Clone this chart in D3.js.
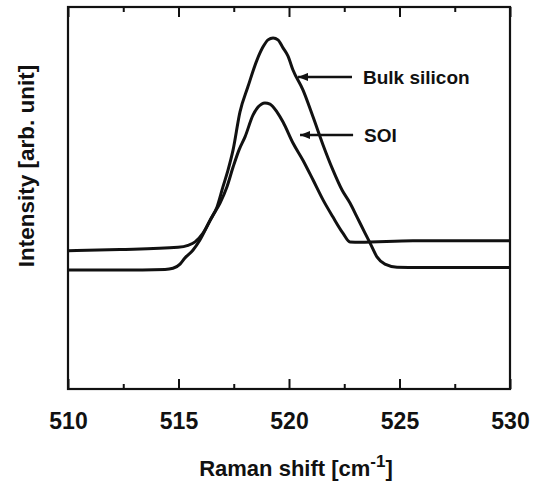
<!DOCTYPE html>
<html>
<head>
<meta charset="utf-8">
<script src="https://cdn.jsdelivr.net/npm/d3@7"></script>
<style>
  body { margin: 0; background: #fff; }
  text { font-family: "Liberation Sans", Arial, sans-serif; font-weight: bold; fill: #111; }
</style>
</head>
<body>
<div id="chart"></div>
<script>
// data (Raman shift in cm-1, intensity in arb. units)
const bulkShift = [510.0, 512.35, 514.39, 514.75, 515.07, 515.29, 515.66, 515.97, 516.43, 516.74, 517.01, 517.24, 517.47, 517.78, 518.14, 518.55, 518.82, 519.05, 519.28, 519.50, 519.73, 519.95, 520.18, 520.63, 521.09, 521.54, 521.99, 522.40, 522.76, 523.08, 523.44, 523.67, 523.98, 524.34, 524.89, 525.93, 530.0]
const bulkIntensity = [31.15, 31.15, 31.3, 31.6, 32.7, 34.3, 36.4, 39.0, 44.2, 47.6, 52.9, 57.3, 62.6, 72.5, 79.1, 86.1, 89.5, 91.4, 91.9, 91.4, 89.3, 87.2, 83.5, 78.3, 71.2, 63.9, 57.3, 52.1, 48.7, 45.0, 40.8, 38.2, 34.6, 32.7, 31.9, 31.8, 31.8]

const soiShift = [510.0, 512.35, 514.98, 515.43, 515.75, 516.11, 516.56, 516.88, 517.19, 517.47, 517.74, 518.01, 518.37, 518.60, 518.91, 519.14, 519.46, 519.73, 520.18, 520.63, 521.09, 521.54, 521.99, 522.44, 522.76, 523.21, 525.61, 530.0]
const soiIntensity = [36.2, 36.5, 37.1, 37.6, 38.5, 40.8, 45.5, 48.7, 52.9, 58.1, 62.6, 66.0, 71.7, 73.8, 74.9, 74.6, 72.5, 69.9, 64.4, 59.9, 54.7, 49.5, 45.0, 40.8, 38.5, 38.4, 38.8, 38.8]

const xTicks = [510, 515, 520, 525, 530]
const xMinorTicks = [512.5, 517.5, 522.5, 527.5]

// labels with arrow: tip shift, tail shift, intensity
const labelNames = ["Bulk silicon", "SOI"]
const labelTip = [520.41, 520.5]
const labelTail = [522.85, 522.9]
const labelLevel = [81.7, 66.5]

const width = 536
const height = 488
const margin = { top: 7, bottom: 99, left: 68, right: 26 }

const svg = d3.select("#chart")
  .append("svg")
    .attr("width", width)
    .attr("height", height)

const x = d3.scaleLinear()
  .domain([510, 530])
  .range([margin.left, width - margin.right])

const y = d3.scaleLinear()
  .domain([0, 100])
  .range([height - margin.bottom, margin.top])

// arrow head
svg.append("defs").append("marker")
    .attr("id", "head")
    .attr("viewBox", "0 0 10 8")
    .attr("refX", 10).attr("refY", 4)
    .attr("markerWidth", 10).attr("markerHeight", 8)
    .attr("markerUnits", "userSpaceOnUse")
    .attr("orient", "auto")
  .append("path")
    .attr("d", "M0,0 L10,4 L0,8 Z")
    .attr("fill", "#111")

// axes: ticks pointing inward
const bottomAxis = svg.append("g")
  .attr("transform", `translate(0,${height - margin.bottom})`)
bottomAxis.call(d3.axisBottom(x).tickValues(xTicks).tickSizeInner(-10).tickSizeOuter(0).tickPadding(28).tickFormat(d3.format("d")))
bottomAxis.append("g").call(d3.axisBottom(x).tickValues(xMinorTicks).tickSize(-5).tickFormat(""))

const topAxis = svg.append("g")
  .attr("transform", `translate(0,${margin.top})`)
topAxis.call(d3.axisTop(x).tickValues(xTicks).tickSize(-10).tickFormat(""))
topAxis.append("g").call(d3.axisTop(x).tickValues(xMinorTicks).tickSize(-5).tickFormat(""))

svg.selectAll(".domain").remove()
svg.selectAll(".tick line").attr("stroke", "#111").attr("stroke-width", 2)
bottomAxis.selectAll(".tick text")
  .attr("font-size", 23)
  .attr("font-family", "'Liberation Sans', Arial, sans-serif")
  .attr("font-weight", "bold")
  .attr("fill", "#111")
  .attr("dy", "0.5em")

// frame
svg.append("rect")
  .attr("x", x(510))
  .attr("y", y(100))
  .attr("width", x(530) - x(510))
  .attr("height", y(0) - y(100))
  .attr("fill", "none")
  .attr("stroke", "#111")
  .attr("stroke-width", 2.2)

// spectra
const line = d3.line()
  .x(d => x(d[0]))
  .y(d => y(d[1]))
  .curve(d3.curveMonotoneX)

const series = [
  d3.zip(bulkShift, bulkIntensity),
  d3.zip(soiShift, soiIntensity)
]

svg.selectAll(".spectrum")
  .data(series)
  .join("path")
    .attr("class", "spectrum")
    .attr("fill", "none")
    .attr("stroke", "#111")
    .attr("stroke-width", 3)
    .attr("stroke-linejoin", "round")
    .attr("d", line)

// labels + arrows
labelNames.forEach((name, i) => {
  svg.append("line")
    .attr("x1", x(labelTail[i]))
    .attr("y1", y(labelLevel[i]))
    .attr("x2", x(labelTip[i]))
    .attr("y2", y(labelLevel[i]))
    .attr("stroke", "#111")
    .attr("stroke-width", 2.5)
    .attr("marker-end", "url(#head)")
  svg.append("text")
    .attr("x", x(labelTail[i]) + 11)
    .attr("y", y(labelLevel[i]) + 7)
    .attr("font-size", 19)
    .text(name)
})

// axis titles
const xTitle = svg.append("text")
  .attr("x", 296)
  .attr("y", 476)
  .attr("text-anchor", "middle")
  .attr("font-size", 22)
xTitle.append("tspan").text("Raman shift [cm")
xTitle.append("tspan").attr("font-size", 17).attr("dy", -9).text("-1")
xTitle.append("tspan").attr("dy", 9).text("]")

svg.append("text")
  .attr("transform", `translate(34,${(y(0) + y(100)) / 2 - 32}) rotate(-90)`)
  .attr("text-anchor", "middle")
  .attr("font-size", 22.5)
  .text("Intensity [arb. unit]")
</script>
</body>
</html>
